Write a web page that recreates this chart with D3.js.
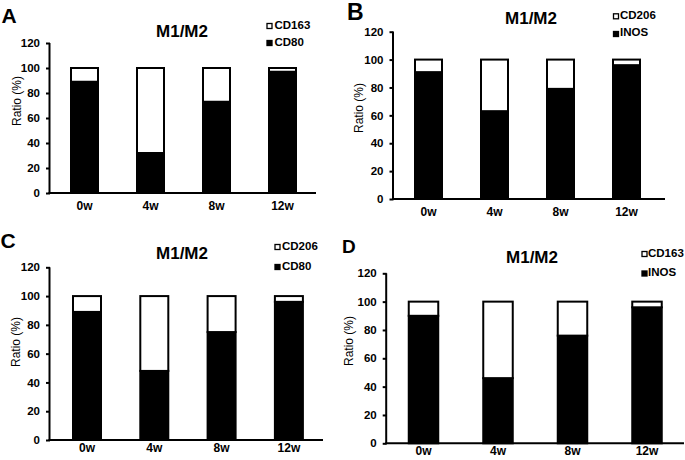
<!DOCTYPE html>
<html>
<head>
<meta charset="utf-8">
<script src="https://cdn.jsdelivr.net/npm/d3@7"></script>
<style>
  html, body { margin: 0; padding: 0; background: #fff; }
  svg { display: block; font-family: "Liberation Sans", Arial, sans-serif; }
</style>
</head>
<body>
<svg id="chart" width="685" height="460"></svg>
<script>
// ---- data ----
const categories = ["0w", "4w", "8w", "12w"];
const yTickValues = [0, 20, 40, 60, 80, 100, 120];
const chartTitle = "M1/M2";
const yAxisLabel = "Ratio (%)";

const panelLetters = ["A", "B", "C", "D"];
const m1Names = ["CD80", "INOS", "CD80", "INOS"];
const m2Names = ["CD163", "CD206", "CD206", "CD163"];

const m1A = [89, 32, 73, 97];
const m2A = [11, 68, 27, 3];
const m1B = [91, 63, 79, 96];
const m2B = [9, 37, 21, 4];
const m1C = [89, 48, 75, 96];
const m2C = [11, 52, 25, 4];
const m1D = [90, 46, 76, 96];
const m2D = [10, 54, 24, 4];

// ---- layout (per panel) ----
const layouts = [
  { ax: 50, y0: 193, y1: 43, xEnd: 316, c0: 84.5, step: 66, bw: 27,
    tx: 182, ty: 36.5, lx: 266.5, ly: [23, 40], ltx: 274.5, lty: [28.5, 45.5],
    letX: 1.5, letY: 22.5, letS: 21, ylx: 21, yly: 101, xty: 209.5 },
  { ax: 393.5, y0: 199, y1: 31.7, xEnd: 665, c0: 428.5, step: 66, bw: 27,
    tx: 531, ty: 24, lx: 613, ly: [13.3, 31], ltx: 620, lty: [18.5, 36],
    letX: 347, letY: 20, letS: 23, ylx: 363, yly: 108, xty: 216 },
  { ax: 50, y0: 440, y1: 267.3, xEnd: 323, c0: 87, step: 67.3, bw: 28,
    tx: 182, ty: 259, lx: 274.5, ly: [244, 264], ltx: 282, lty: [249.5, 269.5],
    letX: 0.5, letY: 248, letS: 21, ylx: 20, yly: 342, xty: 452 },
  { ax: 386.7, y0: 443.3, y1: 273.3, xEnd: 684, c0: 423.5, step: 74.5, bw: 29.5,
    tx: 532, ty: 263, lx: 641.5, ly: [251, 270.5], ltx: 648, lty: [256.5, 276],
    letX: 342, letY: 253, letS: 19, ylx: 353, yly: 341, xty: 455 }
];

const m1Series = [m1A, m1B, m1C, m1D];
const m2Series = [m2A, m2B, m2C, m2D];

const svg = d3.select("#chart");

layouts.forEach((L, i) => {
  const g = svg.append("g");
  const m1 = m1Series[i], m2 = m2Series[i];
  const rows = categories.map((c, k) => ({ cat: c, m1: m1[k], m2: m2[k] }));
  const stack = d3.stack().keys(["m1", "m2"])(rows);

  const pi = 1 - L.bw / L.step;
  const x = d3.scaleBand()
    .domain(categories)
    .range([L.c0 - L.step / 2, L.c0 + 3.5 * L.step])
    .paddingInner(pi)
    .paddingOuter(pi / 2);
  const y = d3.scaleLinear().domain([0, 120]).range([L.y0, L.y1]);

  // bars
  const fills = ["#000", "#fff"];
  stack.forEach((layer, li) => {
    g.append("g").selectAll("rect")
      .data(layer)
      .join("rect")
      .attr("x", d => x(d.data.cat))
      .attr("width", x.bandwidth())
      .attr("y", d => y(d[1]))
      .attr("height", d => y(d[0]) - y(d[1]))
      .attr("fill", fills[li])
      .attr("stroke", "#000")
      .attr("stroke-width", 2);
  });

  // y axis
  const yAxis = d3.axisLeft(y).tickValues(yTickValues).tickSize(4).tickPadding(6);
  const ya = g.append("g").attr("transform", `translate(${L.ax},0)`).call(yAxis);
  ya.select(".domain").attr("stroke-width", 2).attr("d", `M-0.5,${L.y1}V${L.y0}`);
  ya.selectAll(".tick line").attr("stroke-width", 2);
  ya.selectAll(".tick text").attr("font-size", 11.5).attr("font-weight", "bold")
    .attr("fill", "#000").attr("font-family", "'Liberation Sans', Arial, sans-serif");

  // x axis line
  const xScaleLine = d3.scaleLinear().domain([0, 1]).range([L.ax - 1.5, L.xEnd]);
  g.append("line")
    .attr("x1", xScaleLine(0)).attr("x2", xScaleLine(1))
    .attr("y1", L.y0).attr("y2", L.y0)
    .attr("stroke", "#000").attr("stroke-width", 2);

  // x tick labels
  g.append("g").selectAll("text")
    .data(categories)
    .join("text")
    .attr("x", d => x(d) + x.bandwidth() / 2)
    .attr("y", L.xty)
    .attr("text-anchor", "middle")
    .attr("font-size", 12)
    .attr("font-weight", "bold")
    .text(d => d);

  // y label
  g.append("text")
    .attr("transform", `translate(${L.ylx},${L.yly}) rotate(-90)`)
    .attr("text-anchor", "middle")
    .attr("font-size", 12)
    .text(yAxisLabel);

  // title
  g.append("text")
    .attr("x", L.tx).attr("y", L.ty)
    .attr("text-anchor", "middle")
    .attr("font-size", 17)
    .attr("font-weight", "bold")
    .text(chartTitle);

  // panel letter
  g.append("text")
    .attr("x", L.letX).attr("y", L.letY)
    .attr("font-size", L.letS)
    .attr("font-weight", "bold")
    .text(panelLetters[i]);

  // legend (M2 white on top, M1 black below)
  const legendItems = [
    { name: m2Names[i], fill: "#fff" },
    { name: m1Names[i], fill: "#000" }
  ];
  legendItems.forEach((it, k) => {
    g.append("rect")
      .attr("x", L.lx + 0.5).attr("y", L.ly[k] + 0.5)
      .attr("width", 5).attr("height", 5)
      .attr("fill", it.fill).attr("stroke", "#000").attr("stroke-width", 1.3);
    g.append("text")
      .attr("x", L.ltx).attr("y", L.lty[k])
      .attr("font-size", 11.5)
      .attr("font-weight", "bold")
      .text(it.name);
  });
});
</script>
</body>
</html>
